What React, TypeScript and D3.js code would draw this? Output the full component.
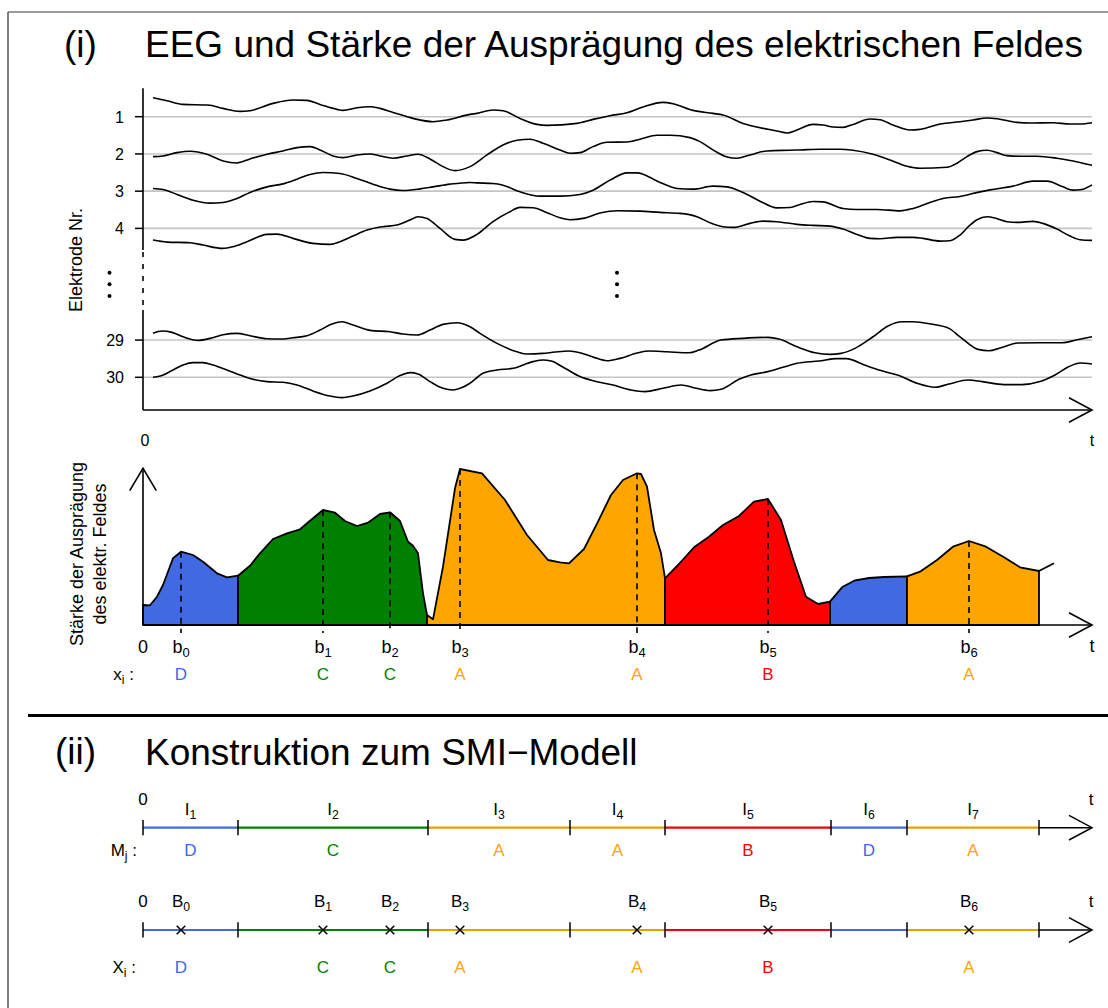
import React from "react";
import * as d3 from "d3";

const FONT = "'Liberation Sans', Arial, Helvetica, sans-serif";

// ---------- EEG (time t, deviation v) ----------
const electrodeLabels = ["1", "2", "3", "4", "29", "30"];
const electrodeSlots = [0, 1, 2, 3, 6, 7];

const eeg1: [number, number][] = [[10,19],[24,16],[40,12.3],[65,11.7],[80,8.3],[97,5.3],[107,6],[130,13.3],[150,16.7],[164,16.3],[177,12.3],[194,7.3],[200,6.3],[214,9],[227,10],[237,8.3],[250,4.3],[270,-1.7],[290,-5],[304,-3.3],[327,2.3],[334,3.3],[350,6.7],[360,6],[377,-1.7],[394,-7.7],[404,-8.7],[434,-6.7],[450,-2.7],[467,1],[484,4],[500,9.7],[520,14.3],[530,13],[550,6.3],[570,3.3],[580,1.7],[600,-6.7],[617,-11],[634,-14.3],[644,-16.3],[654,-13.3],[670,-7.7],[680,-8.3],[690,-10.3],[700,-10.7],[710,-7.7],[727,-2.3],[737,-3],[750,-8.3],[767,-13.3],[777,-12.7],[797,-7.3],[817,-5],[830,-3.3],[844,-1.3],[854,-2],[874,-5.7],[887,-6.3],[910,-6],[927,-7.3],[937,-7.3],[949,-6]];
const eeg2: [number, number][] = [[10,-2.7],[20,-2],[34,1.3],[47,2.7],[64,-0.3],[80,-7],[94,-9],[107,-5],[124,-0.3],[140,3],[154,6.3],[167,7.3],[177,4],[190,-2],[200,-3.7],[214,-1],[227,0],[237,-2],[250,-4.3],[264,-2],[275,-0.3],[287,-5],[300,-12.7],[312,-16.7],[327,-12.7],[344,-1],[360,9],[374,13.7],[387,14.7],[400,10.7],[417,4],[427,0.7],[437,1.3],[450,7.3],[464,11.7],[484,12],[497,14.7],[514,18.7],[527,18.7],[547,16.3],[557,12.3],[570,4],[584,-3],[594,-4.3],[607,-1],[624,3],[647,3.7],[657,4],[677,4.7],[697,4.7],[710,3.7],[730,-0.3],[747,-6],[764,-12.3],[777,-14.3],[804,-13.3],[814,-9.3],[824,-2.7],[834,2.3],[844,3.7],[854,1.3],[864,-1.7],[877,-2.3],[894,-2.3],[914,-4.3],[930,-7],[949,-11.3]];
const eeg3: [number, number][] = [[10,2.7],[20,1.7],[34,-3.3],[50,-9],[67,-12],[80,-11.3],[94,-7.3],[107,-1.3],[124,4.3],[140,7.3],[154,12],[167,16.7],[180,18.7],[197,17.7],[214,12.7],[230,7],[247,2],[260,0.7],[277,2.3],[290,4.3],[307,7],[327,8.7],[334,8.3],[350,7.7],[360,6],[377,-0.7],[397,-5],[417,-5],[437,-3.3],[450,1],[467,11],[484,18.3],[494,18.3],[517,8.7],[534,2.7],[550,2],[570,5],[584,4.3],[600,-1.3],[617,-10],[634,-16.7],[647,-16.3],[657,-13.3],[670,-10.3],[680,-10.7],[700,-17.3],[714,-18.3],[734,-18.3],[757,-19.7],[770,-17.3],[787,-11.3],[800,-7.3],[817,-5.3],[837,-0.7],[847,1.3],[870,5],[890,10],[904,10],[920,4.3],[930,1],[939,1.7],[949,6.3]];
const eeg4: [number, number][] = [[10,-11.7],[24,-13.7],[47,-14.3],[60,-16.7],[80,-20],[90,-18.3],[104,-13.3],[124,-6],[134,-5.7],[150,-10],[170,-15],[187,-16],[197,-13.3],[210,-7.7],[224,-1.7],[240,1.7],[254,3.3],[267,8.3],[275,11.7],[284,10],[297,0],[312,-11],[320,-11.7],[334,-6],[350,6.7],[367,16.7],[377,21],[390,20.7],[404,15.7],[417,10.7],[427,8.7],[440,10],[457,15.3],[474,17.7],[497,17.3],[517,16],[537,15],[554,11.7],[567,5.7],[580,1.7],[590,1],[607,5],[620,7.3],[634,6.7],[654,4],[670,3],[687,2.3],[700,-0.7],[714,-6],[727,-10],[737,-10.3],[754,-9],[770,-9],[780,-10],[797,-12.7],[807,-12.3],[817,-6.7],[827,3.3],[834,8.7],[844,11.7],[854,9.7],[864,6.7],[874,6],[890,7],[900,5],[914,-0.7],[927,-7.7],[937,-11.3],[949,-12]];
const eeg29: [number, number][] = [[10,6.7],[19,9],[29,7.7],[40,3.3],[55,-0.3],[67,1.7],[80,5.3],[94,6.7],[107,4.3],[124,1.3],[137,1],[150,2.3],[164,4.3],[177,10],[189,16],[199,18.3],[210,15],[227,9.7],[247,8.3],[260,6],[274,5],[287,10],[300,15.7],[314,17.3],[327,13.3],[337,6.7],[354,-3.3],[374,-11.7],[384,-14],[400,-13.3],[412,-12],[426,-11],[437,-12.7],[451,-17.3],[464,-20.7],[477,-18.3],[495,-12.7],[506,-11],[524,-11.7],[546,-12.7],[556,-10],[578,0],[600,1.7],[625,2.7],[636,1],[654,-6.7],[672,-12.7],[687,-14.3],[698,-13.3],[712,-8.3],[730,3.3],[745,14],[759,18.3],[770,18.3],[788,16],[806,11.7],[817,3.3],[835,-9.3],[846,-10.7],[857,-8],[875,-3],[897,-2.7],[919,-2.7],[933,0],[949,3.3]];
const eeg30: [number, number][] = [[10,0],[19,1.7],[30,7.3],[40,12.3],[50,14.7],[60,14.7],[70,12.3],[84,7.3],[97,2.3],[110,-2],[124,-4.3],[140,-5],[154,-7.7],[170,-13.7],[187,-18.7],[199,-20.3],[210,-18.7],[227,-13.7],[244,-6],[257,1.7],[267,4.7],[275,3.3],[287,-4.3],[300,-11],[310,-12.7],[319,-10.3],[327,-6],[340,4],[354,7.3],[370,9],[390,15.7],[400,17.3],[408,16.3],[422,9],[437,0.7],[451,-3.7],[470,-7.7],[488,-12.7],[502,-14.3],[520,-11],[538,-7.7],[553,-11],[567,-13.3],[578,-12],[596,-2],[607,2],[625,5.7],[640,10],[654,14],[676,16.3],[694,18.7],[703,18.7],[723,11.7],[738,6.7],[756,1.7],[774,-6],[792,-10],[806,-6.7],[825,-2.7],[839,-4.3],[861,-7.3],[879,-7.3],[897,-4.3],[912,2.3],[926,10.7],[937,14.3],[949,13.3]];
const eegSeries = [eeg1, eeg2, eeg3, eeg4, eeg29, eeg30];

// ---------- field strength profile, one array per state segment ----------
const fieldD1: [number, number][] = [[0,20],[7,19.7],[14,28.3],[20,40],[30,66.7],[38,73.3],[50,70],[60,63.3],[74,51.7],[84,47.7],[95,49.3]];
const fieldC1: [number, number][] = [[95,49.3],[107,59.3],[117,71.7],[130,86],[144,91.7],[157,95.7],[170,106.7],[180,115],[192,112.3],[202,104],[214,99],[225,102.3],[237,111],[247,112.7],[257,104],[265,83.3],[270,79.3],[275,71.7],[280,31.7],[284,10]];
const fieldA1: [number, number][] = [[284,10],[290,5.7],[300,58.3],[312,136.7],[317,156],[339,151.7],[362,125],[384,90],[405,65],[417,62.7],[426,61.7],[441,76],[455,103.3],[468,130],[480,145],[494,151.7],[498,151],[504,138.3],[511,95],[518,71.7],[522,46.7]];
const fieldB1: [number, number][] = [[522,46.7],[535,60],[551,77.7],[566,88.3],[580,100],[596,109],[611,123.3],[625,126],[638,105],[651,63.3],[663,28.3],[675,21],[687,23.3]];
const fieldD2: [number, number][] = [[687,23.3],[699,37.7],[711,44.3],[726,47],[741,48],[764,48.7]];
const fieldA2: [number, number][] = [[764,48.7],[777,53.3],[794,65],[810,78.3],[826,84],[843,78.3],[861,67.7],[877,57.7],[896,54]];
const fieldTail: [number, number][] = [[896,54],[911,61.7]];
const fieldSegments = [fieldD1, fieldC1, fieldA1, fieldB1, fieldD2, fieldA2];
const segmentStates = ["D", "C", "A", "B", "D", "A"];

// ---------- observation times and states ----------
const bTimes = [38, 180, 247, 317, 494, 625, 826];
const bStates = ["D", "C", "C", "A", "A", "B", "A"];

// ---------- SMI intervals ----------
const intervalBounds = [0, 95, 285, 427, 522, 688, 764, 896];
const intervalStates = ["D", "C", "A", "A", "B", "D", "A"];

const stateColors: Record<string, string> = { A: "#FFA500", B: "#FF0000", C: "#008000", D: "#4169E1" };
const lineColors: Record<string, string> = { A: "#E69F00", B: "#F00000", C: "#008000", D: "#4169E1" };

function SubText(props: any) {
  const { x, y, base, sub, after, size = 18, fill = "#000", anchor = "middle" } = props;
  return (
    <text x={x} y={y} fontSize={size} fill={fill} textAnchor={anchor} fontFamily={FONT}>
      <tspan>{base}</tspan>
      <tspan fontSize={size * 0.72} dy={4}>{sub}</tspan>
      {after ? <tspan dy={-4}>{after}</tspan> : null}
    </text>
  );
}

function arrowPath(x: number, y: number) {
  return `M${x - 23},${y - 12.3}L${x},${y}L${x - 23},${y + 12.3}`;
}

export default function App() {
  const tx = d3.scaleLinear().domain([0, 950]).range([143, 1093]);
  const slotY = d3.scaleLinear().domain([0, 7]).range([116.7, 377.3]);
  const dev = d3.scaleLinear().domain([-20, 20]).range([20, -20]);
  const vy = d3.scaleLinear().domain([0, 160]).range([625, 465]);

  const profile = fieldSegments.flat();
  const valueAt = (tt: number) => {
    for (let i = 0; i < profile.length - 1; i++) {
      const a = profile[i], b = profile[i + 1];
      if (tt >= a[0] && tt <= b[0]) {
        if (b[0] === a[0]) return a[1];
        return a[1] + ((b[1] - a[1]) * (tt - a[0])) / (b[0] - a[0]);
      }
    }
    return 0;
  };

  const segLine = d3.line<[number, number]>().x((d) => tx(d[0])).y((d) => vy(d[1]));
  const axisX0 = tx(0);
  const tipX = 1092;
  const eegAxisY = 410;
  const fieldAxisY = vy(0);

  const row1Y = 827.7;
  const row2Y = 930;

  const renderRow = (y: number) => (
    <g>
      {intervalStates.map((s, i) => (
        <line key={"seg" + i} x1={tx(intervalBounds[i])} x2={tx(intervalBounds[i + 1])} y1={y} y2={y}
          stroke={lineColors[s]} strokeWidth={2.2} />
      ))}
      <line x1={tx(intervalBounds[intervalBounds.length - 1])} x2={tipX} y1={y} y2={y} stroke="#000" strokeWidth={1.5} />
      <path d={arrowPath(tipX, y)} fill="none" stroke="#000" strokeWidth={1.5} />
      {intervalBounds.map((b, i) => (
        <line key={"tk" + i} x1={tx(b)} x2={tx(b)} y1={y - 7.7} y2={y + 7.5} stroke="#000" strokeWidth={1.5} />
      ))}
    </g>
  );

  return (
    <svg width={1108} height={1008} style={{ position: "absolute", left: 0, top: 0, background: "#fff" }}
      fontFamily={FONT}>
      <rect x={0} y={0} width={1108} height={1008} fill="#fff" />
      {/* frame */}
      <line x1={8} x2={1108} y1={12} y2={12} stroke="#7a7a7a" strokeWidth={1.5} />
      <line x1={8} x2={8} y1={12} y2={1008} stroke="#555" strokeWidth={1.5} />

      {/* title (i) */}
      <text x={64} y={57} fontSize={37} fontFamily={FONT}>(i)</text>
      <text x={145} y={57} fontSize={37} fontFamily={FONT}>EEG und Stärke der Ausprägung des elektrischen Feldes</text>

      {/* EEG gridlines */}
      {electrodeSlots.map((s, i) => (
        <line key={"g" + i} x1={axisX0} x2={tipX} y1={slotY(s)} y2={slotY(s)} stroke="#c4c4c4" strokeWidth={1.6} />
      ))}
      {/* EEG curves */}
      {eegSeries.map((ser, i) => {
        const gy = slotY(electrodeSlots[i]);
        const ln = d3.line<[number, number]>().x((d) => tx(d[0])).y((d) => gy + dev(d[1])).curve(d3.curveMonotoneX);
        return <path key={"e" + i} d={ln(ser) || ""} fill="none" stroke="#000" strokeWidth={1.6} />;
      })}
      {/* EEG y axis */}
      <line x1={axisX0} x2={axisX0} y1={88.3} y2={250} stroke="#000" strokeWidth={1.6} />
      <line x1={axisX0} x2={axisX0} y1={252} y2={310} stroke="#000" strokeWidth={1.6} strokeDasharray="5,7" />
      <line x1={axisX0} x2={axisX0} y1={310} y2={eegAxisY} stroke="#000" strokeWidth={1.6} />
      {electrodeSlots.map((s, i) => (
        <g key={"yt" + i}>
          <line x1={axisX0 - 8} x2={axisX0} y1={slotY(s)} y2={slotY(s)} stroke="#000" strokeWidth={1.5} />
          <text x={124} y={slotY(s) + 6} fontSize={16} textAnchor="end">{electrodeLabels[i]}</text>
        </g>
      ))}
      {[272.7, 284.3, 296].map((cy, i) => (
        <g key={"dots" + i}>
          <circle cx={109.5} cy={cy} r={2} fill="#000" />
          <circle cx={617} cy={cy} r={2} fill="#000" />
        </g>
      ))}
      <text transform="translate(82,260) rotate(-90)" fontSize={18} textAnchor="middle">Elektrode Nr.</text>
      {/* EEG x axis */}
      <line x1={axisX0} x2={tipX} y1={eegAxisY} y2={eegAxisY} stroke="#000" strokeWidth={1.6} />
      <path d={arrowPath(tipX, eegAxisY)} fill="none" stroke="#000" strokeWidth={1.6} />
      <text x={145} y={446} fontSize={16} textAnchor="middle">0</text>
      <text x={1092} y={446} fontSize={16} textAnchor="middle">t</text>

      {/* field strength chart */}
      {fieldSegments.map((seg, i) => {
        const pts: [number, number][] = [[seg[0][0], 0], ...seg, [seg[seg.length - 1][0], 0]];
        return (
          <path key={"f" + i} d={(segLine(pts) || "") + "Z"} fill={stateColors[segmentStates[i]]}
            stroke="#000" strokeWidth={1.8} strokeLinejoin="round" />
        );
      })}
      <path d={segLine(fieldTail) || ""} fill="none" stroke="#000" strokeWidth={1.8} />
      {bTimes.map((b, i) => (
        <line key={"bd" + i} x1={tx(b)} x2={tx(b)} y1={vy(valueAt(b))} y2={633} stroke="#000"
          strokeWidth={1.6} strokeDasharray="6,5" />
      ))}
      <line x1={axisX0} x2={tipX} y1={fieldAxisY} y2={fieldAxisY} stroke="#000" strokeWidth={1.6} />
      <path d={arrowPath(tipX, fieldAxisY)} fill="none" stroke="#000" strokeWidth={1.6} />
      <line x1={axisX0} x2={axisX0} y1={fieldAxisY} y2={468.3} stroke="#000" strokeWidth={1.6} />
      <path d={`M${axisX0 - 13.3},${490.7}L${axisX0},${468.3}L${axisX0 + 13.3},${490.7}`} fill="none" stroke="#000" strokeWidth={1.6} />
      <text transform="translate(77,554) rotate(-90)" fontSize={18} textAnchor="middle" dominantBaseline="central">Stärke der Ausprägung</text>
      <text transform="translate(100,554) rotate(-90)" fontSize={18} textAnchor="middle" dominantBaseline="central">des elektr. Feldes</text>
      <text x={143} y={653} fontSize={18} textAnchor="middle">0</text>
      <text x={1092} y={652} fontSize={18} textAnchor="middle">t</text>
      {bTimes.map((b, i) => (
        <SubText key={"bl" + i} x={tx(b)} y={653} base="b" sub={String(i)} />
      ))}
      <SubText x={134} y={680} base="x" sub="i" after=" :" anchor="end" size={17} />
      {bTimes.map((b, i) => (
        <text key={"bs" + i} x={tx(b)} y={680} fontSize={17} textAnchor="middle" fill={stateColors[bStates[i]]}>{bStates[i]}</text>
      ))}

      {/* separator */}
      <line x1={28} x2={1108} y1={715.5} y2={715.5} stroke="#000" strokeWidth={3} />

      {/* title (ii) */}
      <text x={55} y={764} fontSize={37}>(ii)</text>
      <text x={145} y={765} fontSize={37}>Konstruktion zum SMI−Modell</text>

      {/* row 1: intervals */}
      {renderRow(row1Y)}
      <text x={143} y={805} fontSize={17} textAnchor="middle">0</text>
      <text x={1091} y={805} fontSize={17} textAnchor="middle">t</text>
      {intervalStates.map((s, i) => {
        const mid = (tx(intervalBounds[i]) + tx(intervalBounds[i + 1])) / 2;
        return (
          <g key={"iv" + i}>
            <SubText x={mid} y={815} base="I" sub={String(i + 1)} size={17} />
            <text x={mid} y={856} fontSize={17} textAnchor="middle" fill={stateColors[s]}>{s}</text>
          </g>
        );
      })}
      <SubText x={137} y={856} base="M" sub="j" after=" :" anchor="end" size={17} />

      {/* row 2: observations */}
      {renderRow(row2Y)}
      <text x={143} y={906.5} fontSize={17} textAnchor="middle">0</text>
      <text x={1091} y={906.5} fontSize={17} textAnchor="middle">t</text>
      {bTimes.map((b, i) => {
        const x = tx(b);
        return (
          <g key={"ob" + i}>
            <path d={`M${x - 4.3},${row2Y - 4.3}L${x + 4.3},${row2Y + 4.3}M${x - 4.3},${row2Y + 4.3}L${x + 4.3},${row2Y - 4.3}`}
              stroke="#000" strokeWidth={1.5} />
            <SubText x={x} y={906.5} base="B" sub={String(i)} size={17} />
            <text x={x} y={972.5} fontSize={17} textAnchor="middle" fill={stateColors[bStates[i]]}>{bStates[i]}</text>
          </g>
        );
      })}
      <SubText x={136} y={972.5} base="X" sub="i" after=" :" anchor="end" size={17} />
    </svg>
  );
}
